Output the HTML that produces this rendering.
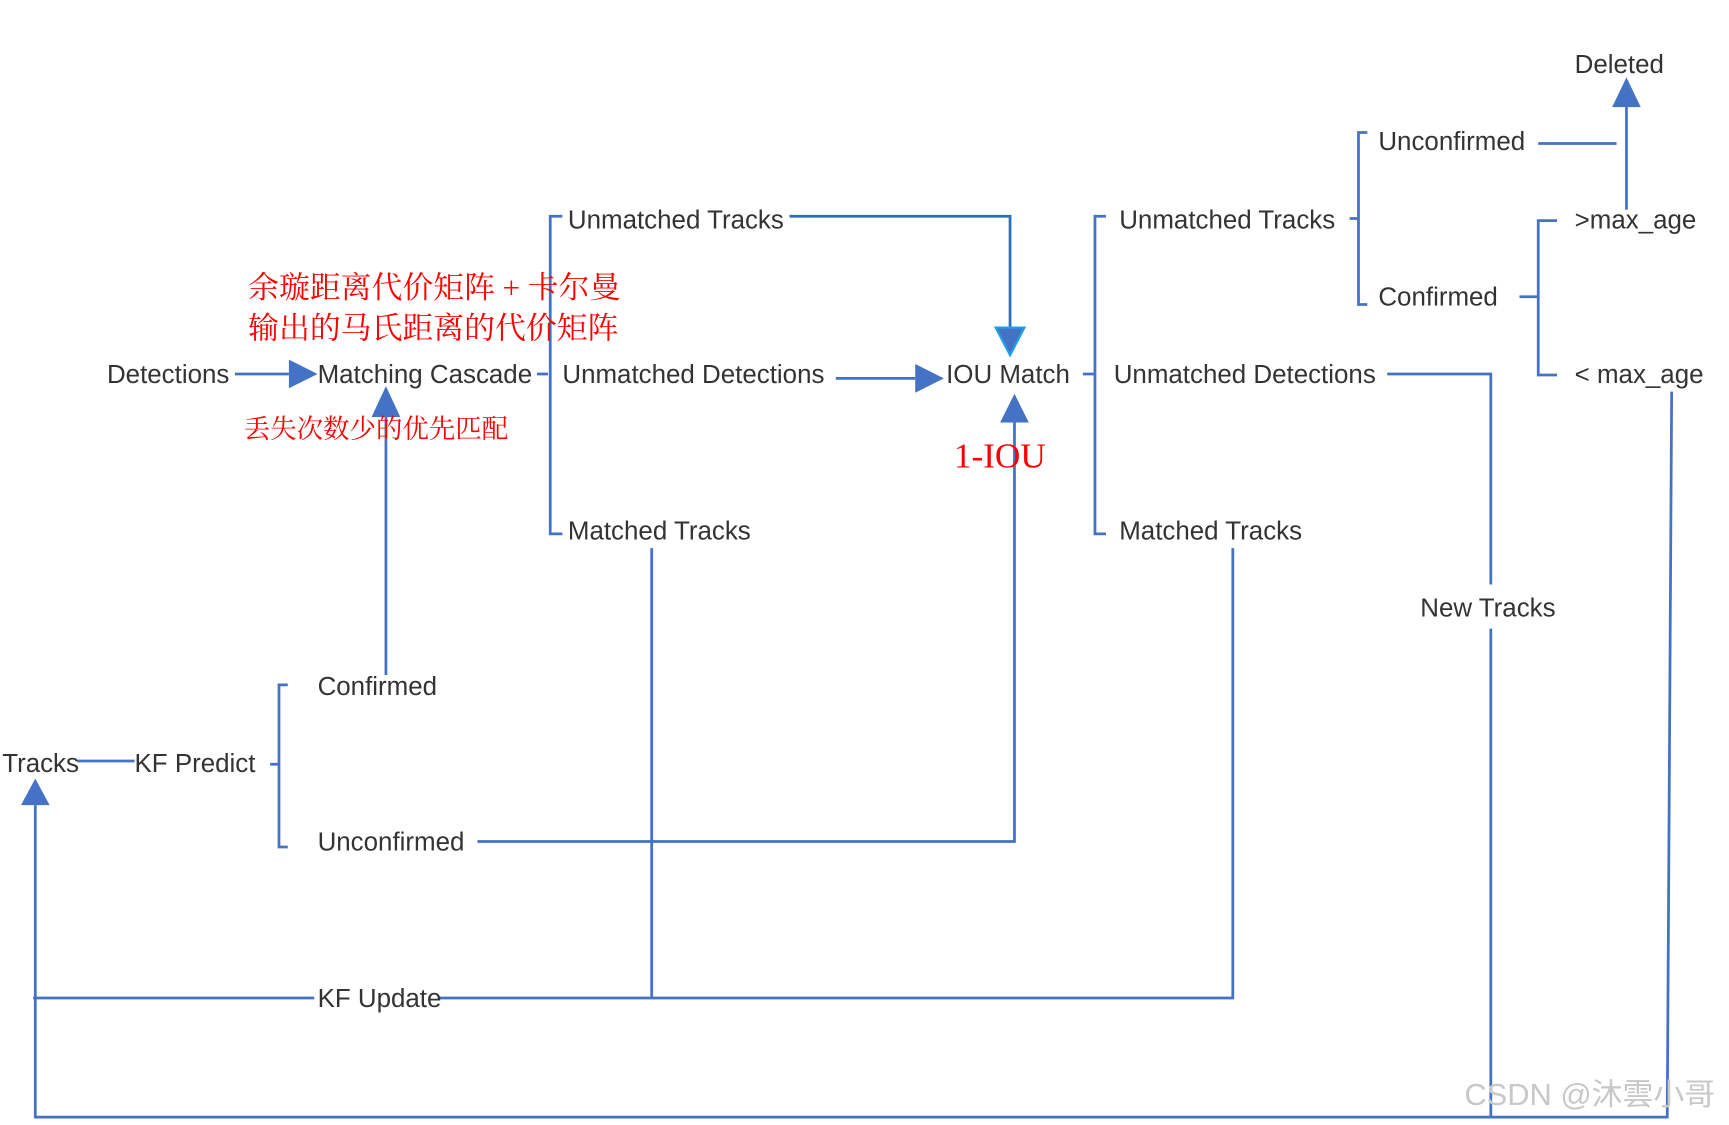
<!DOCTYPE html>
<html><head><meta charset="utf-8"><style>
html,body{margin:0;padding:0;background:#fff;}
svg{display:block;}
.s{font-family:"Liberation Sans","Noto Sans CJK SC",sans-serif;}
.r{font-family:"Liberation Serif","Noto Serif CJK SC",serif;}
</style></head><body>
<svg width="1729" height="1125" viewBox="0 0 1568 1020" xmlns="http://www.w3.org/2000/svg">
<g stroke="#4472C4" stroke-width="2.5" fill="none">
<path d="M1475 97 V190"/>
<path d="M1395 130 H1466"/>
<path d="M1240 120 H1232 V276 H1240 M1224 198 H1232"/>
<path d="M1378 269 H1395 M1412 200 H1395 V340 H1412"/>
<path d="M1003 196 H993 V484 H1003 M982 339 H993"/>
<path d="M1258 339 H1352 V530 M1352 570 V1013"/>
<path d="M1118 497 V905 H398"/>
<path d="M1516 355 L1512 1013 H32 V730"/>
<path d="M70 690 H122 M245 693 H253 M261 621 H253 V768 H261"/>
<path d="M350 612 V378"/>
<path d="M433 763 H920 V383"/>
<path d="M716 196 H916 V300" stroke="#2E6DB8"/>
<path d="M213 339 H262"/>
<path d="M487 339 H497 M510 196 H499 V484 H510"/>
<path d="M758 343 H830"/>
<path d="M591 497 V905"/>
<path d="M30 905 H285"/>
</g>
<g fill="#4472C4">
<polygon points="1475,70 1462,97 1488,97"/>
<polygon points="350,350 337,378 363,378"/>
<polygon points="920,357 907,383 933,383"/>
<polygon points="32,706 19,730 45,730"/>
<polygon points="288,339 262,326 262,352"/>
<polygon points="856,343 830,330 830,356"/>
<polygon points="916,322 903,297 929,297" stroke="#1EA0E8" stroke-width="2"/>
</g>
<g class="s" fill="#333" font-size="23.5">
<text x="1428" y="66">Deleted</text>
<text x="1250" y="136">Unconfirmed</text>
<text x="1015" y="207">Unmatched Tracks</text>
<text x="1250" y="277">Confirmed</text>
<text x="1428" y="207">&gt;max_age</text>
<text x="1428" y="347">&lt; max_age</text>
<text x="858" y="347">IOU Match</text>
<text x="1010" y="347">Unmatched Detections</text>
<text x="1288" y="559">New Tracks</text>
<text x="1015" y="489">Matched Tracks</text>
<text x="2" y="700">Tracks</text>
<text x="122" y="700">KF Predict</text>
<text x="288" y="630">Confirmed</text>
<text x="288" y="771">Unconfirmed</text>
<text x="97" y="347">Detections</text>
<text x="288" y="347">Matching Cascade</text>
<text x="515" y="207">Unmatched Tracks</text>
<text x="510" y="347">Unmatched Detections</text>
<text x="515" y="489">Matched Tracks</text>
<text x="288" y="913">KF Update</text>
</g>
<g class="r" fill="#f00">
<text x="225" y="270" font-size="28">余璇距离代价矩阵 + 卡尔曼</text>
<text x="225" y="307" font-size="28">输出的马氏距离的代价矩阵</text>
<text x="221" y="397" font-size="24">丢失次数少的优先匹配</text>
<text x="865" y="424" font-size="32">1-IOU</text>
</g>
<text class="s" x="1328" y="1002" font-size="28" fill="#c8c8c8">CSDN @沐雲小哥</text>
</svg>
</body></html>
